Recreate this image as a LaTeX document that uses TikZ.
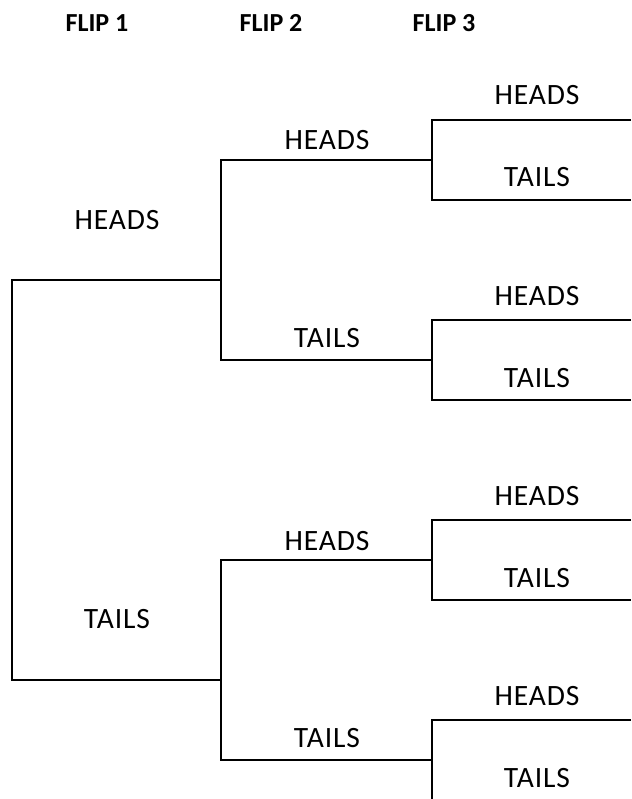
\documentclass[tikz,border=0pt]{standalone}
\usepackage{fontspec}
\setmainfont{Carlito}
\begin{document}
\begin{tikzpicture}[x=1pt,y=-1pt,
  lbl/.style={font=\fontsize{29.5}{34}\selectfont\addfontfeature{LetterSpace=3}, anchor=base, inner sep=0pt},
  hdr/.style={font=\bfseries\fontsize{26}{30}\selectfont, anchor=base, inner sep=0pt},
  br/.style={draw=black, line width=2pt, line join=miter}]
\useasboundingbox (0,0) rectangle (631,799);
% headers
\node[hdr] (h1) at (97,32) {FLIP 1};
\node[hdr] (h2) at (271,32) {FLIP 2};
\node[hdr] (h3) at (444,32) {FLIP 3};
% flip 1
\coordinate (f1h) at (221,280);
\coordinate (f1t) at (221,680);
\coordinate (r1) at (12,280);
\coordinate (r2) at (12,680);
\draw[br] (f1h) -- (r1) -- (r2) -- (f1t);
\node[lbl] (l1h) at (117,230) {HEADS};
\node[lbl] (l1t) at (117,628) {TAILS};
% flip 2
\foreach \i/\y in {1/160,2/560} {
  \coordinate (f2h\i) at (432,\y);
  \coordinate (f2t\i) at (432,\y+200);
  \coordinate (c2h\i) at (221,\y);
  \coordinate (c2t\i) at (221,\y+200);
  \draw[br] (f2h\i) -- (c2h\i) -- (c2t\i) -- (f2t\i);
  \node[lbl] (l2h\i) at (327,\y-10) {HEADS};
  \node[lbl] (l2t\i) at (327,\y+187) {TAILS};
}
% flip 3
\foreach \i/\y in {1/120,2/320,3/520} {
  \coordinate (f3h\i) at (631,\y);
  \coordinate (f3t\i) at (631,\y+80);
  \coordinate (c3h\i) at (432,\y);
  \coordinate (c3t\i) at (432,\y+80);
  \draw[br] (f3h\i) -- (c3h\i) -- (c3t\i) -- (f3t\i);
  \node[lbl] (l3h\i) at (537,\y-15) {HEADS};
  \node[lbl] (l3t\i) at (537,\y+67) {TAILS};
}
\coordinate (f3h4) at (631,720);
\coordinate (c3h4) at (432,720);
\coordinate (c3t4) at (432,801);
\draw[br] (f3h4) -- (c3h4) -- (c3t4);
\node[lbl] (l3h4) at (537,705) {HEADS};
\node[lbl] (l3t4) at (537,787) {TAILS};
\end{tikzpicture}
\end{document}
